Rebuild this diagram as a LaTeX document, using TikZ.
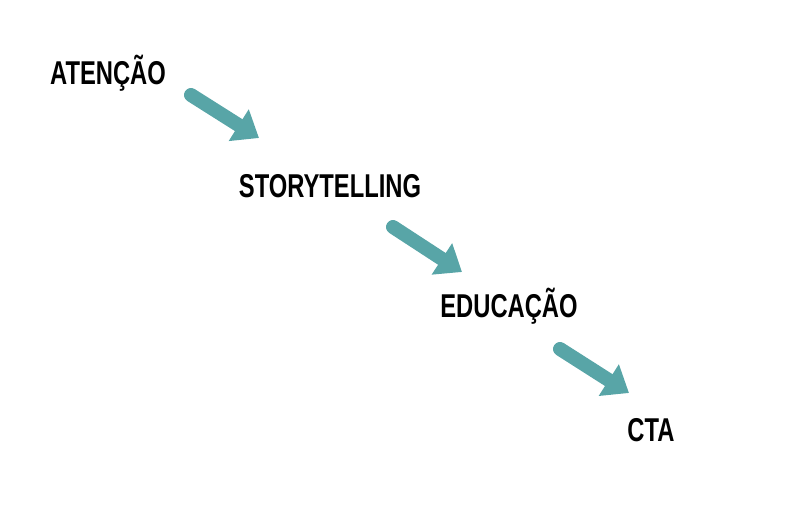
\documentclass[tikz,border=0pt]{standalone}
\usepackage{fontspec}
\setmainfont{Liberation Sans}
\newfontfamily\cond[FakeStretch=0.72]{Liberation Sans}
\usetikzlibrary{arrows.meta}
\definecolor{teal1}{HTML}{58A5A7}
\begin{document}
\begin{tikzpicture}[x=1pt,y=-1pt,
  lbl/.style={font=\cond\bfseries\fontsize{33}{36}\selectfont, text=black, inner sep=0pt},
  arr/.style={draw=teal1, line width=14pt, line cap=round, -{Triangle[length=24pt,width=36pt]}}]
\useasboundingbox (0,0) rectangle (800,530);
\node[lbl] (a) at (108,73) {ATENÇÃO};
\node[lbl] (b) at (330,186) {STORYTELLING};
\node[lbl] (c) at (509,306) {EDUCAÇÃO};
\node[lbl] (d) at (651,430) {CTA};
\coordinate (a1) at (191,95); \coordinate (a2) at (259,138);
\coordinate (b1) at (393,227); \coordinate (b2) at (462,272);
\coordinate (c1) at (560,349); \coordinate (c2) at (629,393);
\draw[arr] (a1) -- (a2);
\draw[arr] (b1) -- (b2);
\draw[arr] (c1) -- (c2);
\end{tikzpicture}
\end{document}
